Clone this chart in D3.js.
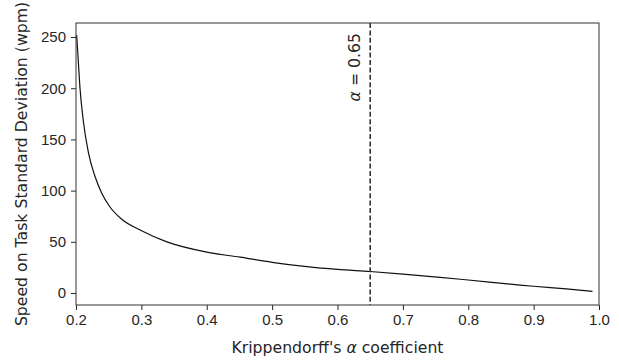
<!DOCTYPE html>
<html>
<head>
    <meta charset="utf-8">
    <style>
        body {
            margin: 0;
            background: #fff;
        }

        svg {
            font-family: "DejaVu Sans", sans-serif;
        }

        .tick text {
            font-size: 15px;
            fill: #262626;
        }

        .tick line {
            stroke: #262626;
        }

        .domain {
            display: none;
        }

        .axis-label {
            font-size: 15.7px;
            fill: #262626;
        }
    </style>
</head>
<body>
    <svg width="619" height="363"></svg>

<script src="https://d3js.org/d3.v7.min.js"></script>
<script>
    // Krippendorff's alpha vs speed SD
    let alphas = [0.201, 0.203, 0.206, 0.211, 0.219, 0.229, 0.239, 0.252, 0.270, 0.298,
        0.339, 0.400, 0.451, 0.500, 0.553, 0.600, 0.650, 0.700, 0.757, 0.800,
        0.879, 0.900, 0.950, 0.990]
    let speedSD = [252, 232, 201, 169, 137, 114, 98, 84, 72, 61.5,
        50, 40, 35, 30, 25.7, 23, 21, 18.5, 15.3, 12.7,
        7.8, 6.6, 4, 1.7]

    let xTicks = [0.2, 0.3, 0.4, 0.5, 0.6, 0.7, 0.8, 0.9, 1.0]
    let yTicks = [0, 50, 100, 150, 200, 250]
    let threshold = 0.65

    let width = 619
    let height = 363
    let margin = { top: 23, right: 20, bottom: 58, left: 76 }

    let svg = d3.select("svg")

    let x = d3.scaleLinear()
        .domain([0.2, 1.0])
        .range([margin.left, width - margin.right])

    let y = d3.scaleLinear()
        .domain([-11.7, 263.7])
        .range([height - margin.bottom, margin.top])

    let xAxis = svg.append("g")
        .attr("class", "x axis")
        .attr("transform", `translate(0,${height - margin.bottom})`)
        .call(d3.axisBottom(x).tickValues(xTicks).tickSize(5).tickPadding(4).tickFormat(d3.format(".1f")))

    let yAxis = svg.append("g")
        .attr("class", "y axis")
        .attr("transform", `translate(${margin.left},0)`)
        .call(d3.axisLeft(y).tickValues(yTicks).tickSize(5).tickPadding(5))

    // curve
    let line = d3.line()
        .x((d, i) => x(alphas[i]))
        .y(d => y(d))
        .curve(d3.curveMonotoneX)

    svg.append("path")
        .datum(speedSD)
        .attr("d", line)
        .attr("fill", "none")
        .attr("stroke", "#111")
        .attr("stroke-width", 1.2)

    // threshold line
    svg.append("line")
        .attr("x1", x(threshold))
        .attr("x2", x(threshold))
        .attr("y1", margin.top)
        .attr("y2", height - margin.bottom)
        .attr("stroke", "#333")
        .attr("stroke-width", 1.6)
        .attr("stroke-dasharray", "5,2.4")

    svg.append("text")
        .attr("class", "axis-label")
        .attr("transform", `translate(${x(threshold) - 16},33) rotate(-90)`)
        .attr("text-anchor", "end")
        .attr("dy", "0.35em")
        .html('<tspan font-style="italic">α</tspan> = 0.65')

    // frame
    svg.append("rect")
        .attr("x", margin.left)
        .attr("y", margin.top)
        .attr("width", width - margin.left - margin.right)
        .attr("height", height - margin.top - margin.bottom)
        .attr("fill", "none")
        .attr("stroke", "#333")
        .attr("stroke-width", 1)

    // axis labels
    svg.append("text")
        .attr("class", "axis-label")
        .attr("x", (margin.left + width - margin.right) / 2)
        .attr("y", 353)
        .attr("text-anchor", "middle")
        .html('Krippendorff\'s <tspan font-style="italic">α</tspan> coefficient')

    svg.append("text")
        .attr("class", "axis-label")
        .attr("transform", `translate(27,${(margin.top + height - margin.bottom) / 2}) rotate(-90)`)
        .attr("text-anchor", "middle")
        .text("Speed on Task Standard Deviation (wpm)")
</script>
</body>
</html>
